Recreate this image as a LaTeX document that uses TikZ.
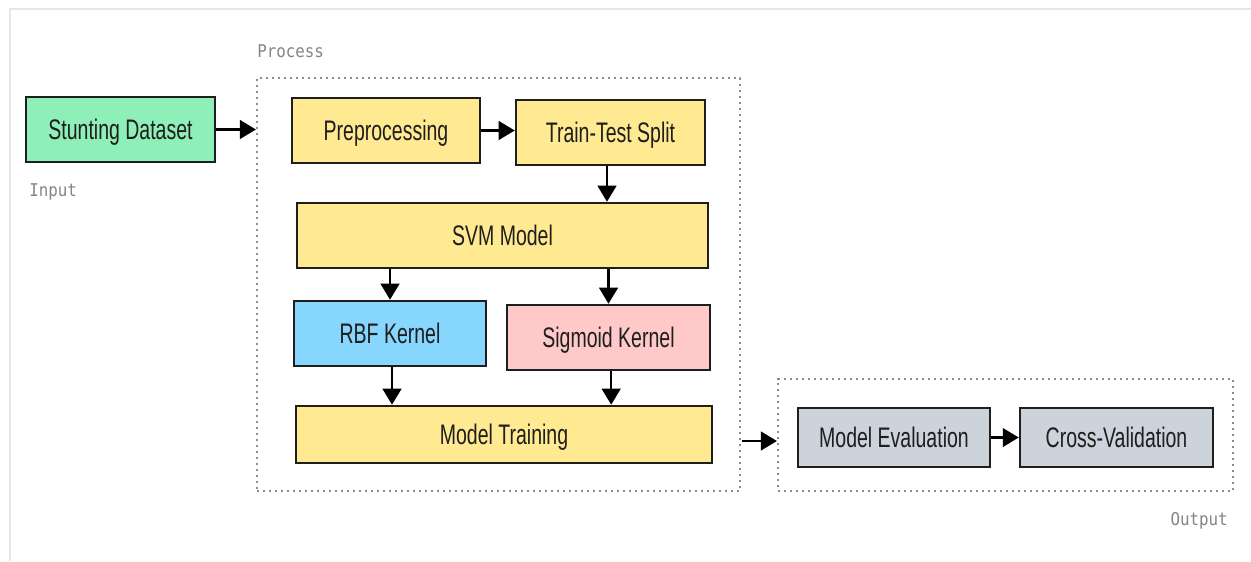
\documentclass[tikz,border=0pt]{standalone}
\usepackage{fontspec}
\usetikzlibrary{arrows.meta,calc}
\newfontfamily\boxfont[FakeStretch=0.69]{Liberation Sans}
\newfontfamily\labfont[FakeStretch=0.9]{DejaVu Sans Mono}
\definecolor{cgreen}{HTML}{8FEFB8}
\definecolor{cyellow}{HTML}{FFE991}
\definecolor{cblue}{HTML}{87D6FD}
\definecolor{cpink}{HTML}{FFC9C9}
\definecolor{cgrey}{HTML}{CDD3DA}
\definecolor{cframe}{HTML}{E6E6E6}
\definecolor{cdot}{HTML}{8C8C8C}
\definecolor{clab}{HTML}{858585}
\definecolor{ctext}{HTML}{1E1E1E}
\tikzset{
  blockbox/.style={draw=ctext, line width=1.9pt, inner sep=0pt, text=ctext,
    text height=14.5pt, text depth=0pt,
    font=\boxfont\fontsize{21.2}{24}\selectfont},
  groupbox/.style={draw=cdot, line width=1.6pt, dash pattern=on 1.6pt off 2.9pt, inner sep=0pt},
  grouplabel/.style={text=clab, font=\labfont\fontsize{13.2}{15}\selectfont, inner sep=0pt},
  arr/.style={draw=black, line width=1.6pt, -{Triangle[length=12pt,width=14pt]}}
}
\begin{document}
\begin{tikzpicture}[x=0.75pt,y=-0.75pt]
\useasboundingbox (0,0) rectangle (1251,561);
\fill[white] (0,0) rectangle (1251,561);
% outer frame
\draw[cframe, line width=2.2pt] (10,561) -- (10,9) -- (1251,9);
% group boxes
\node[groupbox, minimum width=483*0.75pt, minimum height=413*0.75pt] (proc) at (498.5,284.5) {};
\node[groupbox, minimum width=455*0.75pt, minimum height=112*0.75pt] (out) at (1005.5,435) {};
% group labels
\node[grouplabel, anchor=west] (lproc) at (257,51) {Process};
\node[grouplabel, anchor=west] (linp) at (29,192) {Input};
\node[grouplabel, anchor=east] (lout) at (1228,521) {Output};
% blocks
\node[blockbox, fill=cgreen, minimum width=189*0.75pt, minimum height=65*0.75pt] (ds) at (120.5,129.5) {Stunting Dataset};
\node[blockbox, fill=cyellow, minimum width=188*0.75pt, minimum height=65*0.75pt] (prep) at (386,130.5) {Preprocessing};
\node[blockbox, fill=cyellow, minimum width=189*0.75pt, minimum height=65*0.75pt] (tt) at (610.5,132.5) {Train-Test Split};
\node[blockbox, fill=cyellow, minimum width=411*0.75pt, minimum height=65*0.75pt] (svm) at (502.5,235.5) {SVM Model};
\node[blockbox, fill=cblue, minimum width=192*0.75pt, minimum height=65*0.75pt] (rbf) at (390,333.5) {RBF Kernel};
\node[blockbox, fill=cpink, minimum width=203*0.75pt, minimum height=65*0.75pt] (sig) at (608.5,337.5) {Sigmoid Kernel};
\node[blockbox, fill=cyellow, minimum width=416*0.75pt, minimum height=57*0.75pt] (mt) at (504,434.5) {Model Training};
\node[blockbox, fill=cgrey, minimum width=192*0.75pt, minimum height=59*0.75pt] (me) at (894,437.5) {Model Evaluation};
\node[blockbox, fill=cgrey, minimum width=193*0.75pt, minimum height=59*0.75pt] (cv) at (1116.5,437.5) {Cross-Validation};
% connectors
\draw[arr] (ds.east) -- (ds.east -| proc.west);
\draw[arr] (prep.east) -- (prep.east -| tt.west);
\draw[arr] ([xshift=-3.5*0.75pt]tt.south) -- ([xshift=-3.5*0.75pt]tt.south |- svm.north);
\draw[arr] (rbf.north |- svm.south) -- (rbf.north);
\draw[arr] (sig.north |- svm.south) -- (sig.north);
\draw[arr] ([xshift=1.5pt]rbf.south) -- ([xshift=1.5pt]rbf.south |- mt.north);
\draw[arr] ([xshift=2pt]sig.south) -- ([xshift=2pt]sig.south |- mt.north);
\coordinate (mtout) at (742,441);
\draw[arr] (mtout) -- (mtout -| out.west);
\draw[arr] (me.east) -- (cv.west);
\end{tikzpicture}
\end{document}
